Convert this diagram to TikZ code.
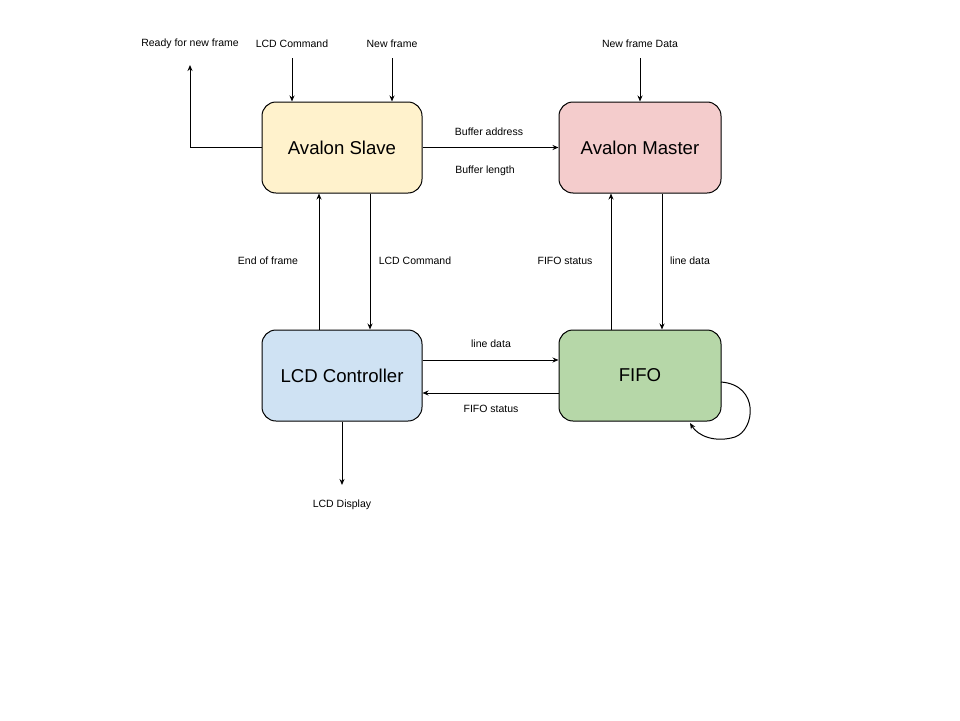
\documentclass[tikz,border=0pt]{standalone}
\usepackage{fontspec}
\setmainfont{Liberation Sans}
\usetikzlibrary{arrows.meta}
\definecolor{slavefill}{HTML}{FFF2CC}
\definecolor{masterfill}{HTML}{F4CCCC}
\definecolor{lcdfill}{HTML}{CFE2F3}
\definecolor{fifofill}{HTML}{B6D7A8}
\begin{document}
\begin{tikzpicture}[x=1pt,y=-1pt,
  block/.style={draw=black, line width=1pt, rounded corners=14pt, minimum width=160pt, minimum height=91pt, inner sep=0pt, font=\fontsize{18.6}{20}\selectfont},
  lbl/.style={font=\fontsize{10.5}{12}\selectfont, inner sep=0pt},
  conn/.style={line width=1pt, -{Stealth[length=6pt,width=5pt]}}
]
\useasboundingbox (0,0) rectangle (960,720);
\fill[white] (0,0) rectangle (960,720);

\node[block, fill=slavefill] (slave) at (342,147.5) {\raisebox{-1pt}{Avalon Slave}};
\node[block, fill=masterfill, minimum width=162pt] (master) at (640,147.5) {\raisebox{-1pt}{Avalon Master}};
\node[block, fill=lcdfill] (lcd) at (342,375.5) {\raisebox{-1pt}{LCD Controller}};
\node[block, fill=fifofill, minimum width=162pt] (fifo) at (640,375.5) {\raisebox{-1pt}{FIFO}};

% top labels
\node[lbl] (lready) at (190,44) {Ready for new frame};
\node[lbl] (lcmdin) at (292,44) {LCD Command};
\node[lbl] (lnewf) at (392,44) {New frame};
\node[lbl] (lnewfd) at (640,44) {New frame Data};

\coordinate (readyend) at (190,65);
\coordinate (cmdstart) at (292,58);
\coordinate (newfstart) at (392,58);
\coordinate (newfdstart) at (640,58);

\draw[conn] (slave.west) -- (190,147.5) -- (readyend);
\draw[conn] (cmdstart) -- (cmdstart |- slave.north);
\draw[conn] (newfstart) -- (newfstart |- slave.north);
\draw[conn] (newfdstart) -- (newfdstart |- master.north);

% slave -> master
\draw[conn] (slave.east) -- (master.west);
\node[lbl] (lbufa) at (489,132) {Buffer address};
\node[lbl] (lbufl) at (485,171) {Buffer length};

% slave <-> lcd
\coordinate (eofx) at (319,0);
\coordinate (cmdx) at (370,0);
\draw[conn] (eofx |- lcd.north) -- (eofx |- slave.south);
\draw[conn] (cmdx |- slave.south) -- (cmdx |- lcd.north);
\node[lbl] (leof) at (268,261) {End of frame};
\node[lbl] (lcmd) at (415,261) {LCD Command};

% master <-> fifo
\coordinate (fsx) at (611,0);
\coordinate (ldx) at (662,0);
\draw[conn] (fsx |- fifo.north) -- (fsx |- master.south);
\draw[conn] (ldx |- master.south) -- (ldx |- fifo.north);
\node[lbl] (lfs) at (565,261) {FIFO status};
\node[lbl] (lld) at (690,261) {line data};

% lcd <-> fifo
\coordinate (ldy) at (0,360);
\coordinate (fsy) at (0,393);
\draw[conn] (lcd.east |- ldy) -- (fifo.west |- ldy);
\draw[conn] (fifo.west |- fsy) -- (lcd.east |- fsy);
\node[lbl] (lld2) at (491,344) {line data};
\node[lbl] (lfs2) at (491,409) {FIFO status};

% lcd display
\coordinate (dispend) at (342,485);
\draw[conn] (lcd.south) -- (dispend);
\node[lbl] (ldisp) at (342,505) {LCD Display};

% FIFO self loop
\coordinate (loopstart) at (721,382);
\coordinate (loopend) at (690,423);
\draw[conn] (loopstart) .. controls (760,385) and (755,430) .. (735,437) .. controls (715,443) and (698,436) .. (loopend);
\end{tikzpicture}
\end{document}
